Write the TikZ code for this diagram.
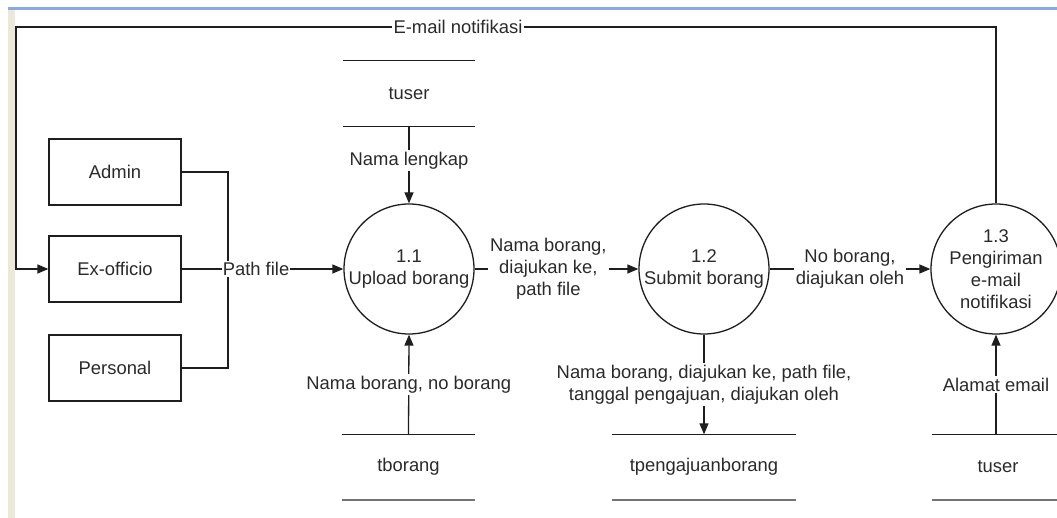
\documentclass[tikz,border=0pt]{standalone}
\usepackage{fontspec}
\setmainfont{Liberation Sans}
\usetikzlibrary{arrows.meta}
\definecolor{xpbeige}{HTML}{ECE9D8}
\definecolor{xpblue}{HTML}{8AA9E2}
\definecolor{ink}{HTML}{1E1E1E}
\definecolor{txt}{HTML}{2A2A2A}
\begin{document}
\begin{tikzpicture}[x=1pt,y=-1pt,
  font=\fontsize{18.4}{22}\selectfont,
  every node/.style={text=txt},
  conn/.style={draw=ink,line width=1.3pt},
  arr/.style={conn,-{Triangle[length=11pt,width=9pt]}},
  lbl/.style={fill=white,inner sep=2pt,align=center},
  proc/.style={circle,draw=ink,line width=1.3pt,minimum size=130pt,inner sep=0pt,align=center},
  entity/.style={rectangle,draw=ink,line width=1.3pt,minimum width=132pt,minimum height=66pt},
  store/.style={minimum width=132pt,minimum height=65pt,inner sep=0pt},
  storetop/.style={draw=ink,line width=1.3pt},
  storebot/.style={draw=black!55,line width=2.2pt}]
\useasboundingbox (0,0) rectangle (1057,518);
\clip (0,0) rectangle (1057,518);
% window frame bits
\fill[white] (0,0) rectangle (1057,518);
\fill[xpbeige] (8,10) rectangle (15,518);
\fill[xpblue] (8,7.5) rectangle (1057,10);

% entities
\node[entity] (ad) at (115,172) {Admin};
\node[entity] (ex) at (115,269) {Ex-officio};
\node[entity] (pe) at (115,368) {Personal};

% processes
\node[proc] (p1) at (409,269) {1.1\\Upload borang};
\node[proc] (p2) at (704,269) {1.2\\Submit borang};
\node[proc] (p3) at (996,269) {1.3\\Pengiriman\\e-mail\\notifikasi};

% data stores
\node[store] (s1) at (409,93.5) {tuser};
\draw[storetop] (s1.north west) -- (s1.north east);
\draw[storetop] (s1.south west) -- (s1.south east);
\node[store] (s2) at (408.5,467) {tborang};
\draw[storetop] (s2.north west) -- (s2.north east);
\draw[storebot] (s2.south west) -- (s2.south east);
\node[store,minimum width=184pt] (s3) at (704,467) {tpengajuanborang};
\draw[storetop] (s3.north west) -- (s3.north east);
\draw[storebot] (s3.south west) -- (s3.south east);
\node[store,minimum width=132pt] (s4) at (998,467) {tuser};
\draw[storetop] (s4.north west) -- (s4.north east);
\draw[storebot] (s4.south west) -- (s4.south east);

% feedback loop
\coordinate (tr) at (996,27);
\coordinate (tl) at (16,27);
\draw[arr] (p3.north) -- (tr) -- node[lbl,pos=0.549]{E-mail notifikasi} (tl) |- (ex.west);

% entity merge
\coordinate (j) at (228,269);
\draw[conn] (ad.east) -| (j);
\draw[conn] (pe.east) -| (j);
\draw[arr] (ex.east) -- node[lbl,pos=0.46,inner sep=1pt]{Path file} (p1.west);

% flows
\draw[arr] (s1.south) -- node[lbl,pos=0.45]{Nama lengkap} (p1.north);
\draw[arr] (s2.north) -- node[lbl]{Nama borang, no borang} (p1.south);
\draw[arr] (p1.east) -- node[lbl,pos=0.45]{Nama borang,\\diajukan ke,\\path file} (p2.west);
\draw[arr] (p2.east) -- node[lbl]{No borang,\\diajukan oleh} (p3.west);
\draw[arr] (p2.south) -- node[lbl]{Nama borang, diajukan ke, path file,\\tanggal pengajuan, diajukan oleh} (s3.north);
\draw[arr] (s4.north -| p3.south) -- node[lbl]{Alamat email} (p3.south);
\end{tikzpicture}
\end{document}
